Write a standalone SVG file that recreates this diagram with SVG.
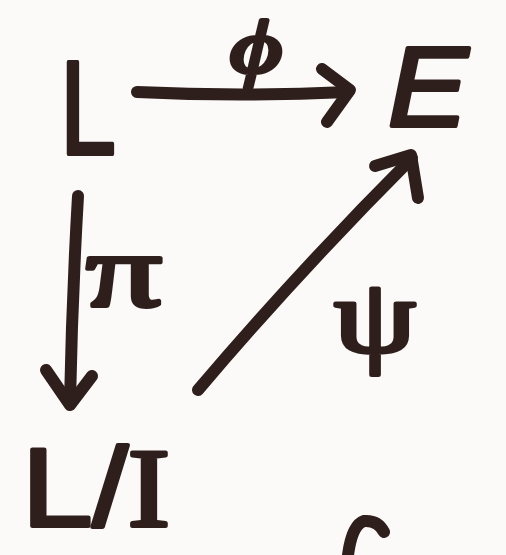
<svg xmlns="http://www.w3.org/2000/svg" width="506" height="555" viewBox="0 0 506 555">
<defs>
<style>
.ink{fill:#2f1f1c;stroke:#2f1f1c;stroke-width:4;stroke-linejoin:round}
.sym{font-family:"Liberation Sans","DejaVu Sans",sans-serif}
.ser{font-family:"Liberation Serif","DejaVu Serif",serif}
.line{fill:none;stroke:#2f1f1c;stroke-width:12;stroke-linecap:round;stroke-linejoin:round}
</style>
</defs>
<rect width="506" height="555" fill="#fbfaf8"/>
<g id="node-L"><text class="ink sym" x="60" y="154" font-size="134" textLength="56" lengthAdjust="spacingAndGlyphs">L</text></g>
<g id="node-E"><text class="ink sym" x="388" y="126" font-size="114" font-style="italic" textLength="80" lengthAdjust="spacingAndGlyphs">E</text></g>
<g id="node-LI"><text class="ink sym" x="22" y="526" font-size="112" textLength="148" lengthAdjust="spacingAndGlyphs">L/<tspan class="ser">I</tspan></text></g>
<g id="connectors">
<g id="edge-phi">
<path class="line" d="M137,92 Q240,97 348,92"/>
<path class="line" d="M322,69 L350,90 L327,122"/>
<text class="ink ser" x="230" y="72" font-size="74" font-style="italic" textLength="52" lengthAdjust="spacingAndGlyphs">ϕ</text>
</g>
<g id="edge-pi">
<path class="line" d="M78,196 Q72,300 70,402"/>
<path class="line" d="M46,370 L70,405 L92,376"/>
<text class="ink ser" x="86" y="306" font-size="104" textLength="76" lengthAdjust="spacingAndGlyphs">π</text>
</g>
<g id="edge-psi">
<path class="line" d="M198,390 Q300,270 412,158"/>
<path class="line" d="M375,166 L411,155 L418,198"/>
<text class="ink ser" x="334" y="352" font-size="106" textLength="82" lengthAdjust="spacingAndGlyphs">ψ</text>
</g>
</g>
<path class="line" d="M348,555 Q352,525 364,521 Q378,520 384,532"/>
</svg>
